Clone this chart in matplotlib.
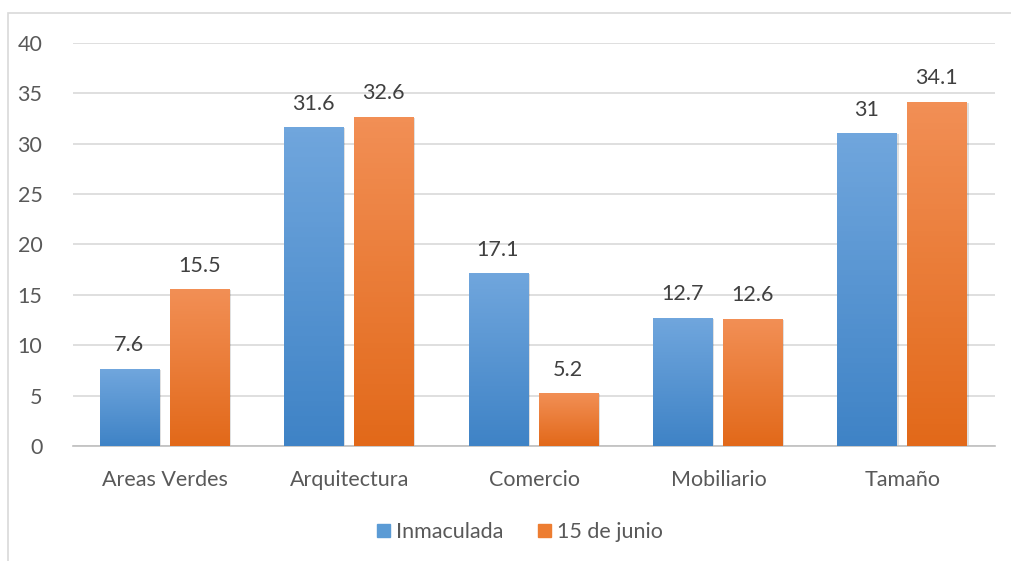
import numpy as np
import matplotlib; matplotlib.use('Agg'); import matplotlib.pyplot as plt
from matplotlib.patches import Rectangle

categories = ['Areas Verdes', 'Arquitectura', 'Comercio', 'Mobiliario', 'Tamaño']
inmaculada = [7.6, 31.6, 17.1, 12.7, 31]
junio = [15.5, 32.6, 5.2, 12.6, 34.1]
labels_inm = ['7.6', '31.6', '17.1', '12.7', '31']
labels_jun = ['15.5', '32.6', '5.2', '12.6', '34.1']

plt.rcParams['font.family'] = ['Lato', 'DejaVu Sans']
txt = '#595959'
fs = 15.5

fig = plt.figure(figsize=(10.11, 5.61), dpi=100)
fig.patches.append(Rectangle((8/1011, -0.1), 1.2, 1 - 13/561 + 0.1, transform=fig.transFigure,
                             fill=False, ec='#d9d9d9', lw=1.2))
ax = fig.add_axes([73/1011, 1 - 446/561, 922/1011, 403/561])

w, gap = 0.32, 0.06
x = np.arange(len(categories))

def grad_bar(xc, h, top, bot):
    # soft shadow then gradient fill
    ax.add_patch(Rectangle((xc - w/2 + 0.012, 0), w, h - 0.05, color='#000000', alpha=0.12, lw=0, zorder=2))
    g = np.linspace(0, 1, 64).reshape(-1, 1)
    c1, c2 = np.array(matplotlib.colors.to_rgb(top)), np.array(matplotlib.colors.to_rgb(bot))
    img = c1 + (c2 - c1) * g[:, :, None]
    ax.imshow(img, extent=(xc - w/2, xc + w/2, 0, h), aspect='auto', origin='upper', zorder=3)

for i in x:
    xb = i - gap/2 - w/2 - 0.005; xo = i + gap/2 + w/2 - 0.005
    grad_bar(xb, inmaculada[i], '#70a6dd', '#3f83c6')
    grad_bar(xo, junio[i], '#f28f55', '#e2691a')
    ax.text(xb, inmaculada[i] + 1.4, labels_inm[i], ha='center', va='bottom', fontsize=fs, color='#404040')
    ax.text(xo, junio[i] + 1.4, labels_jun[i], ha='center', va='bottom', fontsize=fs, color='#404040')

ax.set_xlim(-0.5, 4.5); ax.set_ylim(0, 40)
ax.set_yticks(range(0, 41, 5))
ax.set_xticks(x); ax.set_xticklabels(categories)
ax.tick_params(length=0, labelsize=fs, colors=txt)
ax.tick_params(axis='x', pad=17)
ax.tick_params(axis='y', pad=22)
ax.grid(axis='y', color='#d9d9d9', lw=1.2, zorder=0); ax.set_axisbelow(True)
for s in ['top', 'right', 'left']: ax.spines[s].set_visible(False)
ax.spines['bottom'].set_color('#bfbfbf'); ax.spines['bottom'].set_linewidth(1.2)

h1 = Rectangle((0, 0), 1, 1, color='#5b9bd5'); h2 = Rectangle((0, 0), 1, 1, color='#ed7d31')
fig.legend([h1, h2], ['Inmaculada', '15 de junio'], loc='center', bbox_to_anchor=(520/1011, 1 - 532/561),
           ncol=2, frameon=False, fontsize=fs, handlelength=0.6, handleheight=0.6, handletextpad=0.3,
           columnspacing=1.6, labelcolor=txt)

fig.savefig('out.png', dpi=100)
